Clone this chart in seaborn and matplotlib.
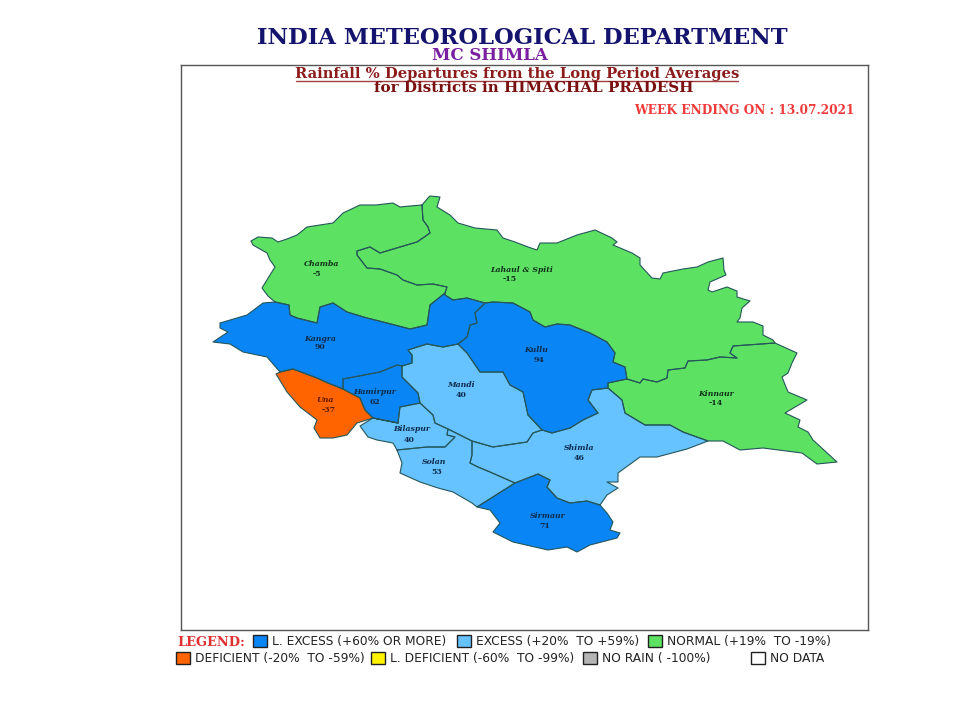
import matplotlib
matplotlib.use("Agg")
import matplotlib.pyplot as plt
import pandas as pd
import seaborn as sns
from matplotlib.patches import Rectangle

# ---- district values ----
districts = ["Chamba", "Lahaul & Spiti", "Kangra", "Kullu", "Mandi", "Hamirpur", "Una",
             "Bilaspur", "Solan", "Shimla", "Sirmaur", "Kinnaur"]
departures = [-5, -15, 90, 94, 40, 62, -37, 40, 53, 46, 71, -14]
categories = ["Normal", "Normal", "L. Excess", "L. Excess", "Excess", "L. Excess", "Deficient",
              "Excess", "Excess", "Excess", "L. Excess", "Normal"]

# ---- digitised map borders (image-pixel map coordinates) ----
chamba_north = [(422, 205), (410, 206), (400, 207), (393, 203), (376, 205), (360, 205), (343, 213), (333, 223),
                (320, 225), (307, 227), (297, 235), (287, 239), (278, 242), (272, 238), (258, 237), (251, 241),
                (253, 245), (267, 253), (270, 260), (275, 267), (270, 275), (262, 288), (268, 296), (275, 302)]
chamba_lahaul = [(422, 205), (423, 220), (428, 227), (430, 233), (417, 242), (400, 247), (380, 253),
                 (370, 247), (357, 251), (357, 255), (367, 268), (380, 269), (397, 275), (403, 280),
                 (417, 285), (433, 284), (447, 287), (445, 293)]
chamba_kangra = [(445, 293), (430, 305), (427, 325), (410, 329), (387, 323), (367, 318), (347, 312),
                 (333, 303), (320, 307), (317, 323), (297, 318), (290, 315), (289, 305), (275, 302)]
lahaul_north = [(422, 205), (428, 198), (430, 196), (440, 197), (437, 207), (450, 215), (458, 223),
                (475, 228), (497, 230), (503, 238), (515, 242), (528, 247), (537, 250), (540, 243), (557, 243),
                (577, 235), (595, 230), (612, 238), (617, 242), (613, 245), (632, 253), (640, 258), (640, 265),
                (652, 278), (660, 279), (663, 273), (683, 269), (697, 267), (708, 262), (723, 258),
                (724, 270), (726, 275), (710, 282), (708, 290), (712, 292), (727, 287), (737, 291),
                (737, 297), (750, 301), (742, 308), (740, 318), (737, 322), (753, 322), (763, 326),
                (763, 335), (773, 340), (775, 343)]
lahaul_kinnaur = [(775, 343), (733, 346), (730, 353), (737, 358), (720, 357), (707, 360), (688, 361),
                  (685, 368), (668, 370), (667, 378), (657, 382), (643, 379), (640, 383), (627, 379)]
lahaul_kullu = [(627, 379), (625, 367), (613, 362), (615, 353), (607, 342), (590, 333), (570, 325),
                (557, 324), (545, 327), (533, 320), (530, 312), (513, 303), (493, 302), (485, 303)]
lahaul_kangra = [(485, 303), (467, 298), (453, 300), (445, 295), (445, 293)]
kangra_south = [(275, 302), (263, 303), (247, 315), (220, 323), (220, 328), (228, 332), (213, 342),
                (230, 344), (243, 352), (267, 357), (280, 372)]
kangra_una = [(280, 372), (293, 369), (317, 378), (328, 383), (343, 389)]
kangra_hamirpur = [(343, 389), (343, 379), (380, 372), (397, 365), (402, 366)]
kangra_mandi = [(402, 366), (412, 363), (412, 355), (408, 350), (427, 344), (443, 347), (458, 344)]
kangra_kullu = [(458, 344), (467, 337), (470, 325), (477, 323), (475, 313), (485, 303)]
kullu_mandi = [(458, 344), (467, 353), (480, 372), (503, 372), (510, 385), (523, 392), (528, 415), (542, 430)]
kullu_shimla = [(542, 430), (552, 433), (570, 428), (583, 420), (598, 413), (588, 400), (592, 390), (608, 388)]
kullu_kinnaur = [(608, 388), (608, 383), (627, 379)]
mandi_shimla = [(542, 430), (533, 433), (527, 442), (493, 447), (472, 441)]
mandi_solan = [(472, 441), (448, 429)]
mandi_bilaspur = [(448, 429), (435, 423), (433, 415), (420, 403)]
mandi_hamirpur = [(420, 403), (418, 393), (402, 377), (402, 366)]
hamirpur_bilaspur = [(420, 403), (400, 407), (398, 423)]
hamirpur_una = [(398, 423), (373, 418), (365, 410), (360, 398), (343, 389)]
una_outer = [(373, 418), (357, 423), (347, 435), (333, 438), (320, 438), (314, 428), (317, 420),
             (300, 407), (287, 392), (276, 374), (280, 372)]
bilaspur_outer = [(373, 418), (360, 426), (368, 437), (377, 440), (393, 443), (397, 450)]
bilaspur_solan = [(397, 450), (427, 447), (445, 447), (455, 437), (447, 435), (448, 429)]
solan_outer = [(397, 450), (402, 463), (400, 473), (420, 482), (438, 488), (453, 492), (472, 503), (477, 507)]
solan_shimla = [(472, 441), (472, 455), (470, 463), (478, 467), (490, 472), (515, 483)]
solan_sirmaur = [(515, 483), (477, 507)]
shimla_kinnaur = [(608, 388), (622, 400), (625, 413), (645, 425), (670, 425), (683, 432), (708, 441)]
shimla_outer = [(708, 441), (687, 449), (657, 457), (640, 457), (618, 473), (618, 482), (607, 482),
                (618, 488), (607, 495), (600, 505)]
shimla_sirmaur = [(600, 505), (587, 501), (570, 503), (557, 498), (547, 487), (550, 480), (538, 474), (515, 483)]
sirmaur_outer = [(600, 505), (607, 513), (613, 522), (610, 530), (620, 533), (617, 538), (590, 545),
                 (577, 552), (567, 547), (548, 550), (513, 542), (493, 532), (500, 523), (490, 510), (477, 507)]
kinnaur_outer = [(775, 343), (797, 353), (792, 363), (788, 373), (782, 377), (788, 392), (807, 400),
                 (785, 413), (800, 420), (798, 427), (808, 432), (813, 440), (837, 462), (817, 464),
                 (802, 453), (763, 448), (740, 450), (723, 441), (708, 441)]


def ring(*parts):
    """Join border pieces; a piece given as (list, True) is walked backwards."""
    pts = []
    for p in parts:
        seq = p[0][::-1] if isinstance(p, tuple) else p
        pts.extend(seq)
    return pts + [pts[0]]


rings = {
    "Chamba": ring(chamba_north, (chamba_kangra, True), (chamba_lahaul, True)),
    "Lahaul & Spiti": ring(lahaul_north, lahaul_kinnaur, lahaul_kullu, lahaul_kangra, (chamba_lahaul, True)),
    "Kangra": ring(kangra_south, kangra_una, kangra_hamirpur, kangra_mandi, kangra_kullu, lahaul_kangra,
                   chamba_kangra),
    "Kullu": ring(kullu_mandi, kullu_shimla, kullu_kinnaur, lahaul_kullu, (kangra_kullu, True)),
    "Mandi": ring(kangra_mandi, kullu_mandi, mandi_shimla, mandi_solan, mandi_bilaspur, mandi_hamirpur),
    "Hamirpur": ring(kangra_hamirpur, (mandi_hamirpur, True), hamirpur_bilaspur, hamirpur_una),
    "Una": ring(kangra_una, (hamirpur_una, True), una_outer),
    "Bilaspur": ring(bilaspur_outer, bilaspur_solan, mandi_bilaspur, hamirpur_bilaspur),
    "Solan": ring(solan_outer, (solan_sirmaur, True), (solan_shimla, True), mandi_solan, (bilaspur_solan, True)),
    "Shimla": ring(kullu_shimla, shimla_kinnaur, shimla_outer, shimla_sirmaur, (solan_shimla, True),
                   (mandi_shimla, True)),
    "Sirmaur": ring(sirmaur_outer, (solan_sirmaur, True), (shimla_sirmaur, True)),
    "Kinnaur": ring((lahaul_kinnaur, True), kinnaur_outer, (shimla_kinnaur, True), kullu_kinnaur),
}

# ---- colours and legend text ----
palette = {"L. Excess": "#0A85F5", "Excess": "#66C3FF", "Normal": "#5CE163", "Deficient": "#FF6400",
           "L. Deficient": "#FFF200", "No Rain": "#B4B4B4", "No Data": "#FFFFFF"}
legend_row1 = [("L. Excess", "L. EXCESS (+60% OR MORE)"), ("Excess", "EXCESS (+20%  TO +59%)"),
               ("Normal", "NORMAL (+19%  TO -19%)")]
legend_row2 = [("Deficient", "DEFICIENT (-20%  TO -59%)"), ("L. Deficient", "L. DEFICIENT (-60%  TO -99%)"),
               ("No Rain", "NO RAIN ( -100%)"), ("No Data", "NO DATA")]
title_main = "INDIA METEOROLOGICAL DEPARTMENT"
title_sub = "MC SHIMLA"
heading_1 = "Rainfall % Departures from the Long Period Averages"
heading_2 = "for Districts in HIMACHAL PRADESH"
week_label = "WEEK ENDING ON : 13.07.2021"

W, H = 964, 710
L, R, T, B = 180.5, 867.5, 64.5, 630

sns.set_theme(style="white")
plt.rcParams["font.family"] = ["Liberation Serif", "DejaVu Serif"]

fig = plt.figure(figsize=(W / 100, H / 100), dpi=100, facecolor="white")
ax = fig.add_axes([L / W, 1 - B / H, (R - L) / W, (B - T) / H])
ax.set_xticks([])
ax.set_yticks([])
for s in ax.spines.values():
    s.set_color("#555555")
    s.set_linewidth(1.0)

# fills
for name, cat in zip(districts, categories):
    xs, ys = zip(*rings[name])
    ax.fill(xs, ys, color=palette[cat], lw=0, zorder=1)

# outlines through seaborn
rows = []
for name in districts:
    for order, (x, y) in enumerate(rings[name]):
        rows.append({"district": name, "order": order, "x": x, "y": y})
outline = pd.DataFrame(rows)
sns.lineplot(data=outline, x="x", y="y", units="district", estimator=None, sort=False,
             color="#24565a", lw=0.8, ax=ax, zorder=2, legend=False)
ax.set_xlabel("")
ax.set_ylabel("")
ax.set_xlim(L, R)
ax.set_ylim(B, T)

# district labels: name and value
label_xy = {"Chamba": (322, 264, 317, 274), "Lahaul & Spiti": (522, 270, 510, 279), "Kangra": (320, 339, 320, 347),
            "Kullu": (536, 350, 539, 360), "Mandi": (461, 385, 461, 395), "Hamirpur": (375, 392, 375, 402),
            "Una": (325, 400, 329, 410), "Bilaspur": (412, 429, 409, 440), "Solan": (434, 462, 437, 472),
            "Shimla": (579, 448, 579, 458), "Sirmaur": (548, 516, 545, 526), "Kinnaur": (716, 394, 716, 403)}
for name, val, cat in zip(districts, departures, categories):
    x1, y1, x2, y2 = label_xy[name]
    c = {"Normal": "#10301a", "Deficient": "#5a1a00"}.get(cat, "#0d2a4a")
    ax.text(x1, y1, name, ha="center", va="center", fontsize=5.6, fontweight="bold", fontstyle="italic",
            family="DejaVu Serif", color=c, zorder=3)
    ax.text(x2, y2, str(val), ha="center", va="center", fontsize=5.6, fontweight="bold",
            family="DejaVu Serif", color=c, zorder=3)

# titles
kw = dict(family="DejaVu Serif", fontweight="bold", ha="center", va="center", clip_on=False)
ax.text(522, 38, title_main, fontsize=16.3, color="#14146e", **kw)
ax.text(490, 56, title_sub, fontsize=12, color="#7a1fa0", **kw)
ax.text(517, 74, heading_1, fontsize=10.6, color="#8c1c1c", **kw)
ax.plot([296, 738], [81, 81], color="#a04040", lw=1.0, zorder=3)
ax.text(534, 87.5, heading_2, fontsize=10.9, color="#7a1010", **kw)
ax.text(744, 110.5, week_label, fontsize=8.7, color="#f03a3a", **kw)

# legend
ax.text(177, 642.5, "LEGEND:", fontsize=9.4, color="#e03030", family="DejaVu Serif", fontweight="bold",
        ha="left", va="center", clip_on=False)
swatch_x = {0: [253, 457, 648], 1: [176, 371, 583, 751]}
for row, (entries, y) in enumerate([(legend_row1, 641), (legend_row2, 658)]):
    for (cat, text), sx in zip(entries, swatch_x[row]):
        ax.add_patch(Rectangle((sx, y - 6), 14, 12, facecolor=palette[cat], edgecolor="#202020", lw=1.0,
                               clip_on=False, zorder=3))
        ax.text(sx + 19, y + 0.5, text, fontsize=8.8, color="#222222", family="DejaVu Sans",
                ha="left", va="center", clip_on=False)

fig.savefig("out.png", dpi=100, facecolor="white")
